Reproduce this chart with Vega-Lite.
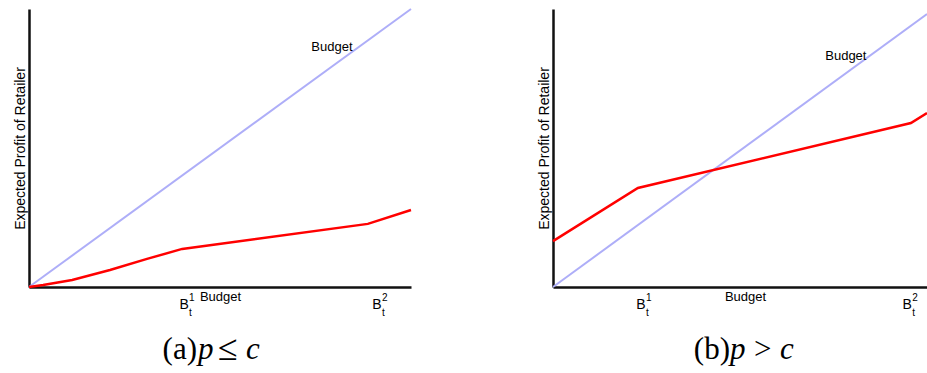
{
  "$schema": "https://vega.github.io/schema/vega-lite/v6.json",
  "padding": {"left": 13, "top": 5, "right": 0, "bottom": 0},
  "spacing": 142,
  "bounds": "flush",
  "background": "white",
  "config": {
    "view": {"stroke": null},
    "font": "Liberation Sans",
    "axis": {"domainColor": "#111111", "domainWidth": 2.5, "ticks": false, "labels": false, "grid": false, "titleFont": "Liberation Sans", "titleFontWeight": "normal", "titleColor": "#000000", "titleFontSize": 13},
    "axisY": {"titleFontSize": 14, "titlePadding": 2},
    "axisX": {"titlePadding": 3}
  },
  "datasets": {
    "budgetA": [{"x": 0, "y": 0}, {"x": 100, "y": 100}],
    "profitA": [{"x": 0, "y": 0}, {"x": 3.7, "y": 0.7}, {"x": 11.3, "y": 2.5}, {"x": 21.2, "y": 6.1}, {"x": 30.9, "y": 10.1}, {"x": 40.1, "y": 13.7}, {"x": 88.7, "y": 22.7}, {"x": 100, "y": 27.7}],
    "budgetB": [{"x": 0, "y": 0}, {"x": 100, "y": 98.2}],
    "profitB": [{"x": 0, "y": 16.5}, {"x": 22.7, "y": 35.6}, {"x": 95.7, "y": 59.0}, {"x": 100, "y": 62.6}],
    "ticksA": [{"x": 40.6, "base": "B", "sup": "1", "sub": "t"}, {"x": 91.1, "base": "B", "sup": "2", "sub": "t"}],
    "ticksB": [{"x": 23.5, "base": "B", "sup": "1", "sub": "t"}, {"x": 94.7, "base": "B", "sup": "2", "sub": "t"}],
    "lineLabel": [{"text": "Budget"}],
    "captionA": [{"tag": "(a)", "p": "p", "rel": "≤", "c": "c"}],
    "captionB": [{"tag": "(b)", "p": "p", "rel": ">", "c": "c"}]
  },
  "hconcat": [
    {
      "width": 382,
      "height": 278,
      "layer": [
        {
          "data": {"name": "budgetA"},
          "mark": {"type": "line", "color": "#aeaef8", "strokeWidth": 2},
          "encoding": {
            "x": {"field": "x", "type": "quantitative", "scale": {"domain": [0, 100], "nice": false}, "axis": {"title": "Budget"}},
            "y": {"field": "y", "type": "quantitative", "scale": {"domain": [0, 100], "nice": false}, "axis": {"title": "Expected Profit of Retailer"}}
          }
        },
        {
          "data": {"name": "profitA"},
          "mark": {"type": "line", "color": "#ff0000", "strokeWidth": 2.5},
          "encoding": {
            "x": {"field": "x", "type": "quantitative", "axis": {"title": "Budget"}},
            "y": {"field": "y", "type": "quantitative", "axis": {"title": "Expected Profit of Retailer"}}
          }
        },
        {
          "data": {"name": "lineLabel"},
          "mark": {"type": "text", "fontSize": 13, "color": "#000000", "align": "center", "baseline": "alphabetic"},
          "encoding": {"x": {"datum": 79.3, "type": "quantitative"}, "y": {"datum": 84.9, "type": "quantitative"}, "text": {"field": "text"}}
        },
        {
          "data": {"name": "ticksA"},
          "mark": {"type": "text", "fontSize": 14, "color": "#000000", "align": "center", "baseline": "alphabetic", "dy": 22},
          "encoding": {"x": {"field": "x", "type": "quantitative"}, "y": {"datum": 0, "type": "quantitative"}, "text": {"field": "base"}}
        },
        {
          "data": {"name": "ticksA"},
          "mark": {"type": "text", "fontSize": 10, "color": "#000000", "align": "left", "baseline": "alphabetic", "dx": 5, "dy": 14},
          "encoding": {"x": {"field": "x", "type": "quantitative"}, "y": {"datum": 0, "type": "quantitative"}, "text": {"field": "sup"}}
        },
        {
          "data": {"name": "ticksA"},
          "mark": {"type": "text", "fontSize": 10, "color": "#000000", "align": "left", "baseline": "alphabetic", "dx": 5, "dy": 29},
          "encoding": {"x": {"field": "x", "type": "quantitative"}, "y": {"datum": 0, "type": "quantitative"}, "text": {"field": "sub"}}
        },
        {
          "data": {"name": "captionA"},
          "mark": {"type": "text", "font": "Liberation Serif", "fontSize": 31, "color": "#000000", "align": "right", "baseline": "alphabetic", "dx": -23, "dy": 72},
          "encoding": {"x": {"datum": 50, "type": "quantitative"}, "y": {"datum": 0, "type": "quantitative"}, "text": {"field": "tag"}}
        },
        {
          "data": {"name": "captionA"},
          "mark": {"type": "text", "font": "Liberation Serif", "fontStyle": "italic", "fontSize": 31, "color": "#000000", "align": "left", "baseline": "alphabetic", "dx": -22, "dy": 72},
          "encoding": {"x": {"datum": 50, "type": "quantitative"}, "y": {"datum": 0, "type": "quantitative"}, "text": {"field": "p"}}
        },
        {
          "data": {"name": "captionA"},
          "mark": {"type": "text", "font": "Liberation Serif", "fontSize": 36, "color": "#000000", "align": "left", "baseline": "alphabetic", "dx": -2, "dy": 73},
          "encoding": {"x": {"datum": 50, "type": "quantitative"}, "y": {"datum": 0, "type": "quantitative"}, "text": {"field": "rel"}}
        },
        {
          "data": {"name": "captionA"},
          "mark": {"type": "text", "font": "Liberation Serif", "fontStyle": "italic", "fontSize": 31, "color": "#000000", "align": "left", "baseline": "alphabetic", "dx": 26, "dy": 72},
          "encoding": {"x": {"datum": 50, "type": "quantitative"}, "y": {"datum": 0, "type": "quantitative"}, "text": {"field": "c"}}
        }
      ]
    },
    {
      "width": 374,
      "height": 278,
      "layer": [
        {
          "data": {"name": "budgetB"},
          "mark": {"type": "line", "color": "#aeaef8", "strokeWidth": 2},
          "encoding": {
            "x": {"field": "x", "type": "quantitative", "scale": {"domain": [0, 100], "nice": false}, "axis": {"title": "Budget", "titleX": 192}},
            "y": {"field": "y", "type": "quantitative", "scale": {"domain": [0, 100], "nice": false}, "axis": {"title": "Expected Profit of Retailer"}}
          }
        },
        {
          "data": {"name": "profitB"},
          "mark": {"type": "line", "color": "#ff0000", "strokeWidth": 2.5},
          "encoding": {
            "x": {"field": "x", "type": "quantitative", "axis": {"title": "Budget", "titleX": 192}},
            "y": {"field": "y", "type": "quantitative", "axis": {"title": "Expected Profit of Retailer"}}
          }
        },
        {
          "data": {"name": "lineLabel"},
          "mark": {"type": "text", "fontSize": 13, "color": "#000000", "align": "center", "baseline": "alphabetic"},
          "encoding": {"x": {"datum": 78.3, "type": "quantitative"}, "y": {"datum": 81.7, "type": "quantitative"}, "text": {"field": "text"}}
        },
        {
          "data": {"name": "ticksB"},
          "mark": {"type": "text", "fontSize": 14, "color": "#000000", "align": "center", "baseline": "alphabetic", "dy": 22},
          "encoding": {"x": {"field": "x", "type": "quantitative"}, "y": {"datum": 0, "type": "quantitative"}, "text": {"field": "base"}}
        },
        {
          "data": {"name": "ticksB"},
          "mark": {"type": "text", "fontSize": 10, "color": "#000000", "align": "left", "baseline": "alphabetic", "dx": 5, "dy": 14},
          "encoding": {"x": {"field": "x", "type": "quantitative"}, "y": {"datum": 0, "type": "quantitative"}, "text": {"field": "sup"}}
        },
        {
          "data": {"name": "ticksB"},
          "mark": {"type": "text", "fontSize": 10, "color": "#000000", "align": "left", "baseline": "alphabetic", "dx": 5, "dy": 29},
          "encoding": {"x": {"field": "x", "type": "quantitative"}, "y": {"datum": 0, "type": "quantitative"}, "text": {"field": "sub"}}
        },
        {
          "data": {"name": "captionB"},
          "mark": {"type": "text", "font": "Liberation Serif", "fontSize": 31, "color": "#000000", "align": "right", "baseline": "alphabetic", "dx": -10, "dy": 72},
          "encoding": {"x": {"datum": 50, "type": "quantitative"}, "y": {"datum": 0, "type": "quantitative"}, "text": {"field": "tag"}}
        },
        {
          "data": {"name": "captionB"},
          "mark": {"type": "text", "font": "Liberation Serif", "fontStyle": "italic", "fontSize": 31, "color": "#000000", "align": "left", "baseline": "alphabetic", "dx": -10, "dy": 72},
          "encoding": {"x": {"datum": 50, "type": "quantitative"}, "y": {"datum": 0, "type": "quantitative"}, "text": {"field": "p"}}
        },
        {
          "data": {"name": "captionB"},
          "mark": {"type": "text", "font": "Liberation Serif", "fontSize": 31, "color": "#000000", "align": "left", "baseline": "alphabetic", "dx": 14, "dy": 72},
          "encoding": {"x": {"datum": 50, "type": "quantitative"}, "y": {"datum": 0, "type": "quantitative"}, "text": {"field": "rel"}}
        },
        {
          "data": {"name": "captionB"},
          "mark": {"type": "text", "font": "Liberation Serif", "fontStyle": "italic", "fontSize": 31, "color": "#000000", "align": "left", "baseline": "alphabetic", "dx": 40, "dy": 72},
          "encoding": {"x": {"datum": 50, "type": "quantitative"}, "y": {"datum": 0, "type": "quantitative"}, "text": {"field": "c"}}
        }
      ]
    }
  ]
}
